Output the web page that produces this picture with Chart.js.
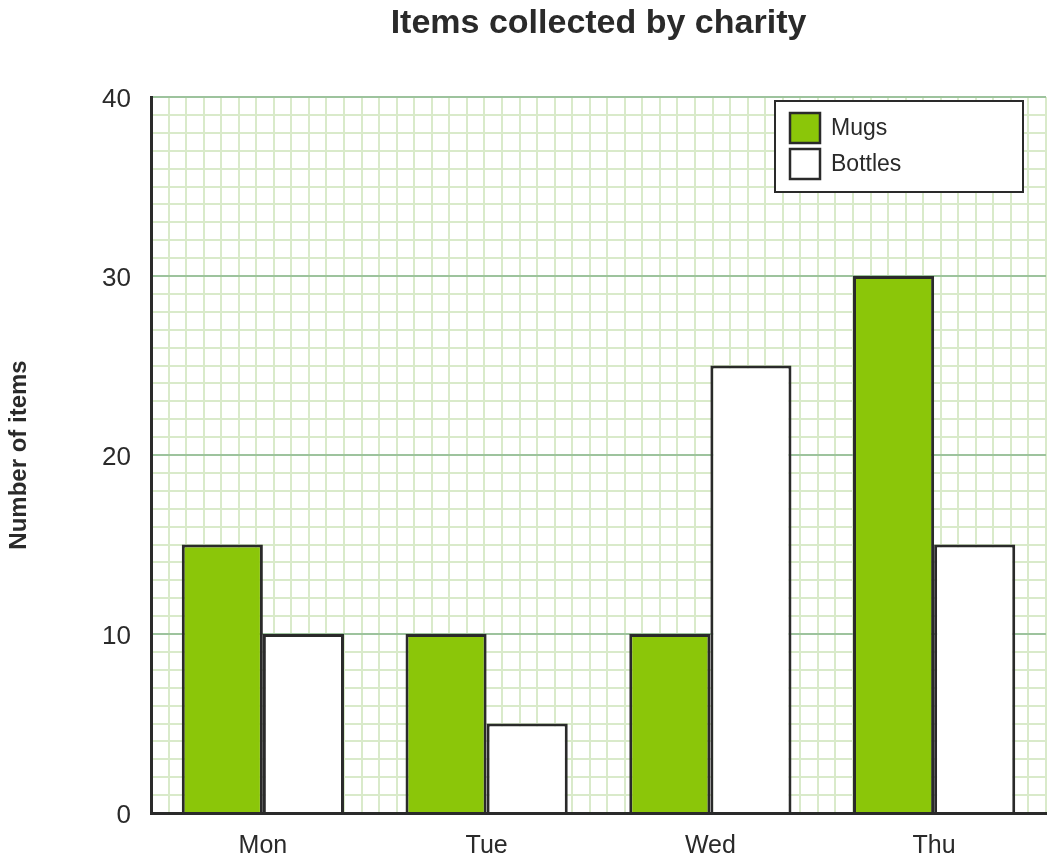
<!DOCTYPE html>
<html>
<head>
<meta charset="utf-8">
<script src="https://cdn.jsdelivr.net/npm/chart.js@4"></script>
<style>
  body { margin: 0; background: #fff; }
  #wrap { width: 1055px; height: 861px; position: relative; }
</style>
</head>
<body>
<div id="wrap"><canvas id="ChartCanvas"></canvas></div>
<script>
const days = ['Mon', 'Tue', 'Wed', 'Thu'];
const mugs = [15, 10, 10, 30];
const bottles = [10, 5, 25, 15];
const yMax = 40;
const yMajorStep = 10;
const gridCells = 50;

const ink = '#2a2a2a';
const green = '#8bc609';
const majorGrid = '#9dc39d';
const minorGrid = '#d9eaca';
const clear = 'rgba(0,0,0,0)';
const fontFamily = '"Liberation Sans", Arial, sans-serif';

// title centred over the plot, not the whole canvas
const plotTitle = {
  id: 'plotTitle',
  afterDraw: chart => {
    const ctx = chart.ctx;
    const area = chart.chartArea;
    ctx.save();
    ctx.font = 'bold 34px ' + fontFamily;
    ctx.fillStyle = ink;
    ctx.textAlign = 'center';
    ctx.textBaseline = 'alphabetic';
    ctx.fillText('Items collected by charity', (area.left + area.right) / 2, 33);
    ctx.restore();
  }
};

// boxed legend sitting inside the top right of the plot
const boxLegend = {
  id: 'boxLegend',
  afterDraw: chart => {
    const ctx = chart.ctx;
    const area = chart.chartArea;
    const w = 248, h = 91;
    const x = area.right - 23 - w;
    const y = area.top + 4;
    ctx.save();
    ctx.fillStyle = '#fff';
    ctx.fillRect(x, y, w, h);
    ctx.lineWidth = 2;
    ctx.strokeStyle = ink;
    ctx.strokeRect(x, y, w, h);

    ctx.font = '23px ' + fontFamily;
    ctx.textBaseline = 'middle';
    chart.data.datasets.forEach((ds, i) => {
      const sy = y + 12 + i * 36;
      ctx.fillStyle = ds.backgroundColor;
      ctx.fillRect(x + 15, sy, 30, 30);
      ctx.lineWidth = 2.5;
      ctx.strokeStyle = ink;
      ctx.strokeRect(x + 15, sy, 30, 30);
      ctx.fillStyle = ink;
      ctx.fillText(ds.label, x + 56, sy + 16);
    });
    ctx.restore();
  }
};

const tickValue = c => (c && c.tick ? c.tick.value : null);

new Chart(document.getElementById('ChartCanvas'), {
  type: 'bar',
  data: {
    labels: days,
    datasets: [{
      label: 'Mugs',
      data: mugs,
      backgroundColor: green,
      borderColor: ink,
      borderWidth: 3,
      xAxisID: 'x'
    }, {
      label: 'Bottles',
      data: bottles,
      backgroundColor: '#ffffff',
      borderColor: ink,
      borderWidth: 3,
      xAxisID: 'x'
    }]
  },
  options: {
    animation: false,
    responsive: true,
    maintainAspectRatio: false,
    layout: { padding: { top: 97, right: 9, left: 0, bottom: 0 } },
    datasets: {
      bar: { barPercentage: 1, categoryPercentage: 0.725 }
    },
    scales: {
      x: {
        type: 'category',
        position: 'bottom',
        grid: { display: false, drawTicks: false },
        border: { display: true, color: ink, width: 3, z: 1 },
        ticks: {
          color: ink,
          font: { family: fontFamily, size: 25 },
          padding: 18
        },
        afterFit: scale => { scale.height = 48; }
      },
      xg: {
        type: 'linear',
        position: 'bottom',
        min: 0,
        max: gridCells,
        ticks: { display: false, stepSize: 1 },
        grid: {
          drawTicks: false,
          lineWidth: 2,
          color: c => (tickValue(c) === 0 ? clear : minorGrid)
        },
        border: { display: false },
        afterFit: scale => { scale.height = 0; }
      },
      y: {
        min: 0,
        max: yMax,
        ticks: {
          stepSize: 1,
          autoSkip: false,
          color: ink,
          padding: 20,
          labelOffset: 3,
          font: { family: fontFamily, size: 26 },
          callback: v => (v % yMajorStep === 0 ? v : '')
        },
        grid: {
          drawTicks: false,
          lineWidth: 2,
          color: c => {
            const v = tickValue(c);
            if (v === null || v === 0) return clear;
            return v % yMajorStep === 0 ? majorGrid : minorGrid;
          }
        },
        border: { display: true, color: ink, width: 3, z: 1 },
        title: {
          display: true,
          text: 'Number of items',
          color: ink,
          font: { family: fontFamily, size: 24, weight: 'bold' },
          padding: { top: 5, bottom: 0 }
        },
        afterFit: scale => { scale.width = 151; }
      }
    },
    plugins: {
      legend: { display: false },
      title: { display: false },
      tooltip: { enabled: false }
    }
  },
  plugins: [plotTitle, boxLegend]
});
</script>
</body>
</html>
